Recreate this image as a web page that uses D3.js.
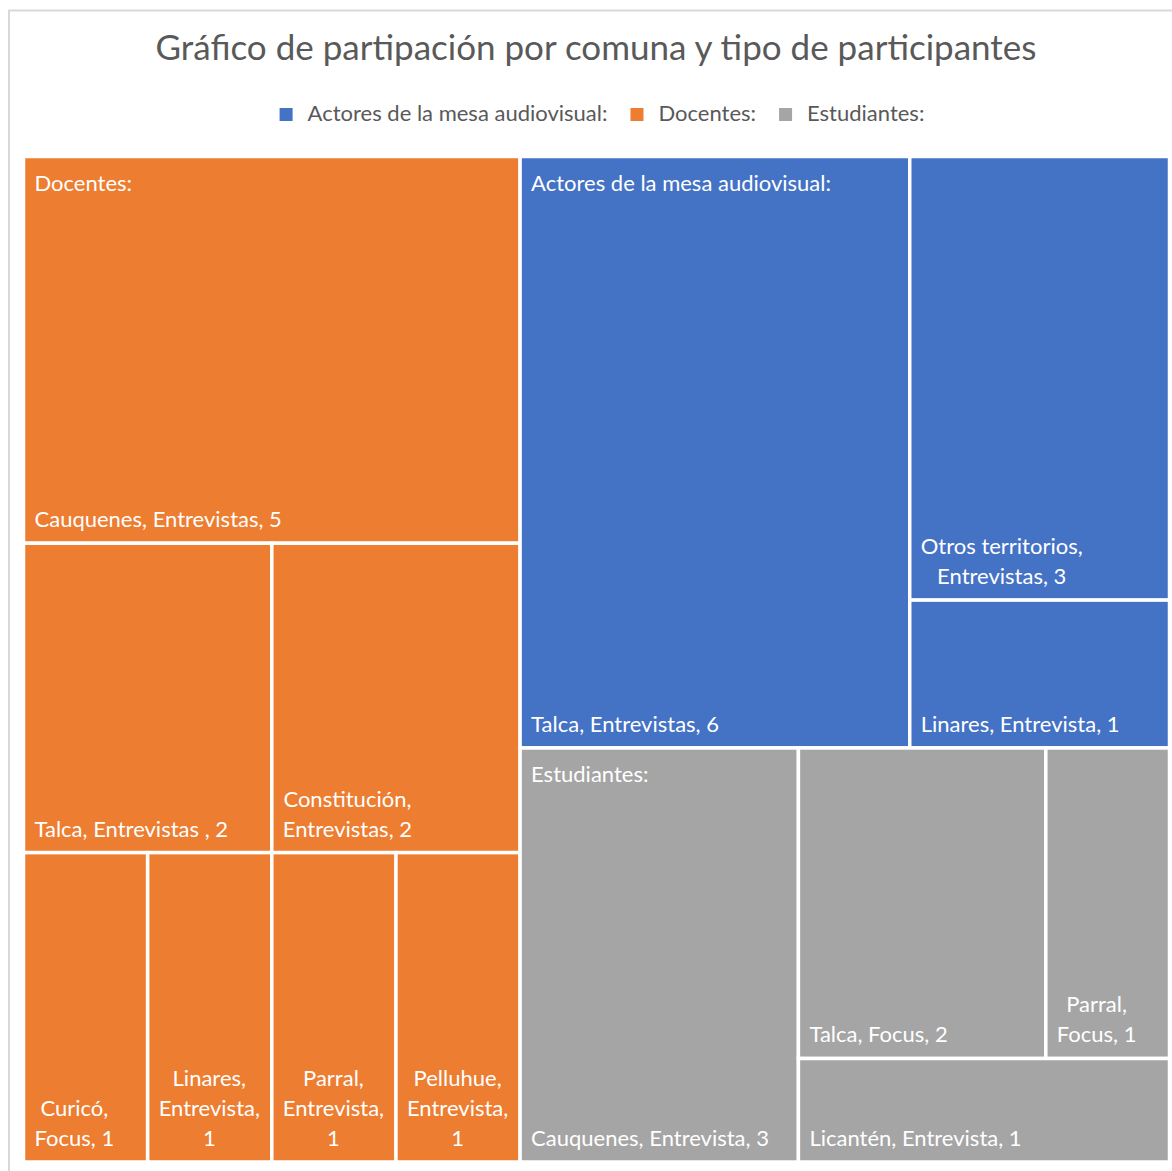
<!DOCTYPE html>
<html>
<head>
<meta charset="utf-8">
<script src="https://cdn.jsdelivr.net/npm/d3@7"></script>
<style>
  body { margin: 0; background: #fff; }
  svg { display: block; }
  text { font-family: Lato, "Open Sans", sans-serif; }
</style>
</head>
<body>
<svg id="chart" width="1172" height="1171"></svg>
<script>
const title = "Gráfico de partipación por comuna y tipo de participantes";
const categories = ["Actores de la mesa audiovisual:", "Docentes:", "Estudiantes:"];
const categoryColors = ["#4472C4", "#ED7D31", "#A5A5A5"];

const actoresLabels = ["Talca, Entrevistas", "Otros territorios, Entrevistas", "Linares, Entrevista"];
const actoresValues = [6, 3, 1];
const docentesLabels = ["Cauquenes, Entrevistas", "Talca, Entrevistas ", "Constitución, Entrevistas",
  "Curicó, Focus", "Linares, Entrevista", "Parral, Entrevista", "Pelluhue, Entrevista"];
const docentesValues = [5, 2, 2, 1, 1, 1, 1];
const estudiantesLabels = ["Cauquenes, Entrevista", "Talca, Focus", "Parral, Focus", "Licantén, Entrevista"];
const estudiantesValues = [3, 2, 1, 1];

const svg = d3.select("#chart");
const labelSize = 22;
const lineH = 30;

// chart frame (cut by the picture on the right and bottom)
svg.append("rect")
  .attr("x", 9).attr("y", 10.5)
  .attr("width", 1200).attr("height", 1200)
  .attr("fill", "none").attr("stroke", "#d9d9d9").attr("stroke-width", 2);

svg.append("text")
  .attr("x", 596).attr("y", 60)
  .attr("text-anchor", "middle")
  .attr("fill", "#595959")
  .attr("font-size", 35)
  .text(title);

// legend, centred
const legend = svg.append("g");
let lx = 0;
categories.forEach((c, i) => {
  const item = legend.append("g").attr("transform", `translate(${lx},0)`);
  item.append("rect").attr("x", 0).attr("y", -13).attr("width", 13).attr("height", 13)
    .attr("fill", categoryColors[i]);
  const t = item.append("text").attr("x", 28).attr("y", 0)
    .attr("fill", "#595959").attr("font-size", labelSize).text(c);
  lx += 28 + t.node().getComputedTextLength() + 23;
});
legend.attr("transform", `translate(${602 - (lx - 23) / 2},121)`);

// hierarchy: Excel's strips written as nested slices/dices
function leaves(labels, values, cat) {
  return labels.map((l, i) => ({ name: l, value: values[i], cat }));
}
function split(dir, ...children) {
  return { dir, children };
}
function group(cat, dir, ...children) {
  return { dir, cat, header: categories[cat], children };
}
const A = leaves(actoresLabels, actoresValues, 0);
const D = leaves(docentesLabels, docentesValues, 1);
const E = leaves(estudiantesLabels, estudiantesValues, 2);

const tree = split("h",
  group(1, "v", split("h", D[0]), split("h", D[1], D[2]), split("h", D[3], D[4], D[5], D[6])),
  split("v",
    group(0, "h", A[0], split("v", A[1], A[2])),
    group(2, "h", E[0], split("v", split("h", E[1], E[2]), E[3]))
  )
);

const root = d3.hierarchy(tree).sum(d => d.value || 0);
d3.treemap()
  .size([1146, 1005.5])
  .tile((node, x0, y0, x1, y1) =>
    (node.data.dir === "h" ? d3.treemapDice : d3.treemapSlice)(node, x0, y0, x1, y1))
  (root);

const g = svg.append("g").attr("transform", "translate(23.5,156.5)");

g.selectAll("rect.cell")
  .data(root.leaves())
  .join("rect")
  .attr("class", "cell")
  .attr("x", d => d.x0).attr("y", d => d.y0)
  .attr("width", d => d.x1 - d.x0).attr("height", d => d.y1 - d.y0)
  .attr("fill", d => categoryColors[d.data.cat])
  .attr("stroke", "#fff").attr("stroke-width", 3.5);

// group headers
g.selectAll("text.header")
  .data(root.descendants().filter(d => d.data.header))
  .join("text")
  .attr("class", "header")
  .attr("x", d => d.x0 + 11).attr("y", d => d.y0 + 34)
  .attr("fill", "#fff").attr("font-size", labelSize)
  .text(d => d.data.header);

// leaf labels, wrapped, bottom aligned
const measure = svg.append("text").attr("font-size", labelSize).attr("visibility", "hidden");
function textW(s) {
  measure.text(s);
  return measure.node().getComputedTextLength();
}
function wrap(s, maxW) {
  const words = s.split(" ");
  const lines = [];
  let cur = "";
  words.forEach(w => {
    const trial = cur ? cur + " " + w : w;
    if (cur && textW(trial) > maxW) {
      lines.push(cur);
      cur = w;
    } else cur = trial;
  });
  lines.push(cur);
  return lines;
}

root.leaves().forEach(d => {
  const lines = wrap(`${d.data.name}, ${d.data.value}`, d.x1 - d.x0 - 14);
  const widths = lines.map(textW);
  const blockW = d3.max(widths);
  const lab = g.append("g");
  lines.forEach((l, i) => {
    lab.append("text")
      .attr("x", d.x0 + 11 + (blockW - widths[i]) / 2)
      .attr("y", d.y1 - 16 - (lines.length - 1 - i) * lineH)
      .attr("fill", "#fff").attr("font-size", labelSize)
      .text(l);
  });
});
measure.remove();
</script>
</body>
</html>
